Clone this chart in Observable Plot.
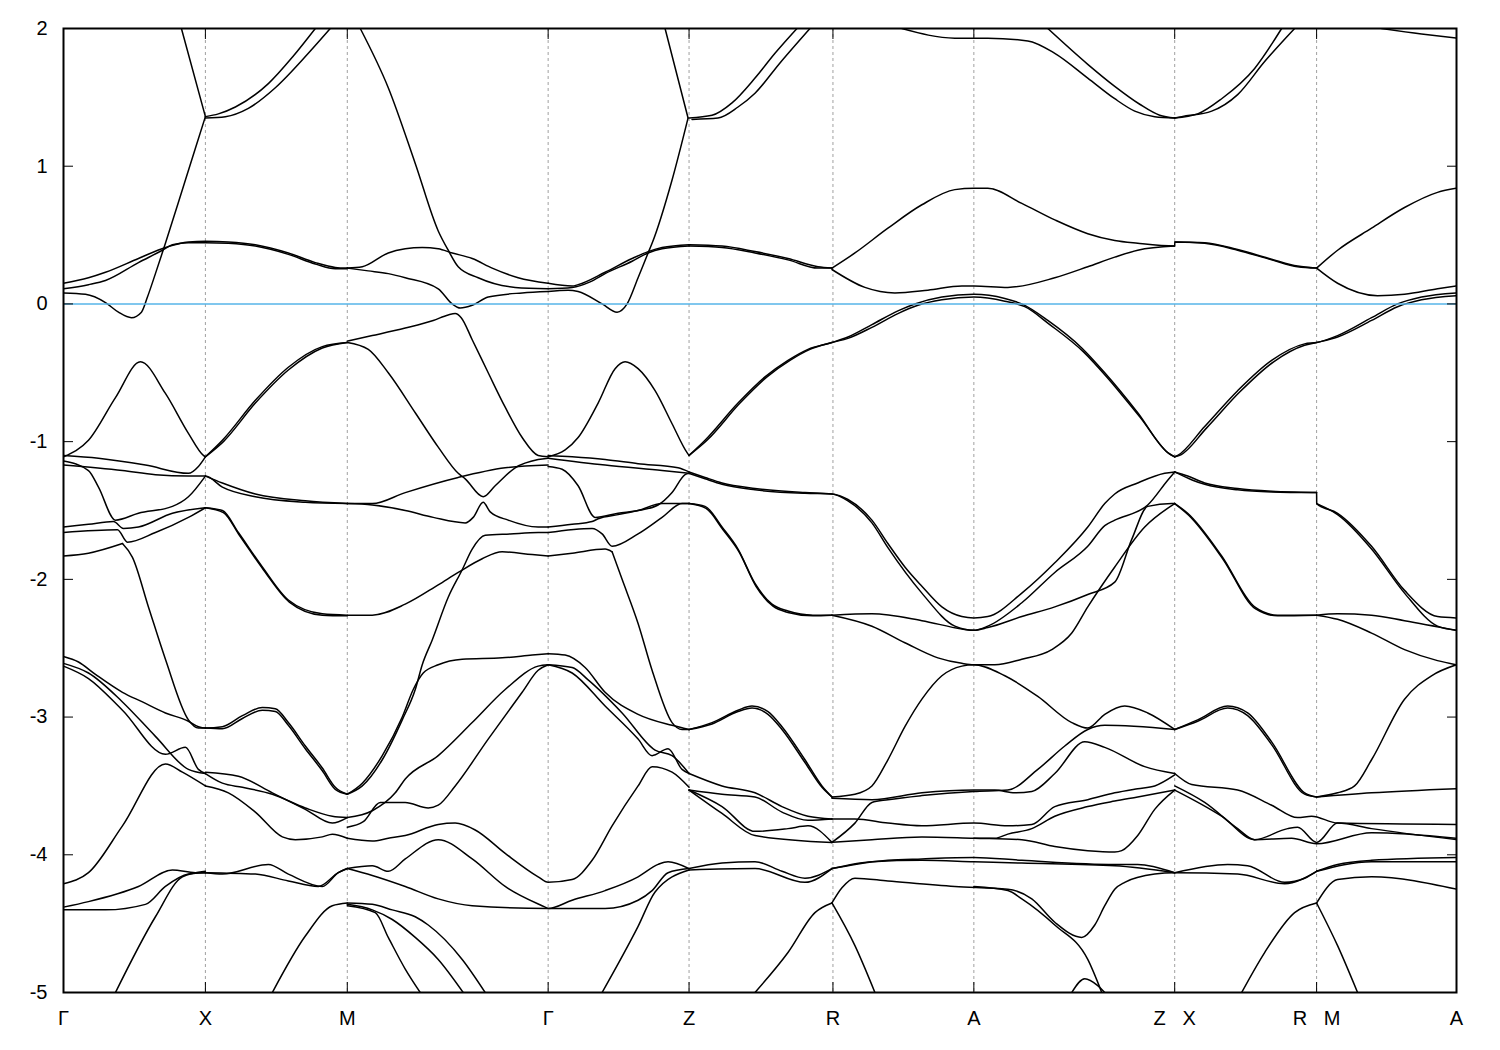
<!DOCTYPE html>
<html><head><meta charset="utf-8">
<script src="https://cdn.jsdelivr.net/npm/d3@7"></script>
<script src="https://cdn.jsdelivr.net/npm/@observablehq/plot@0.6"></script>
<style>body{margin:0;background:#fff;}</style>
</head><body><div id="chart"></div>
<script>
// High-symmetry path (k in path-length units) and labels
const kTicks = [0, 1.42, 2.84, 4.85, 6.26, 7.70, 9.11, 11.12, 12.54, 13.94];
const kLabels = ["Γ","X","M","Γ","Z","R","A","Z\u00a0\u00a0\u00a0X","R\u00a0\u00a0\u00a0M","A"];
const energyTicks = [-5,-4,-3,-2,-1,0,1,2];
const fermiLevel = 0;

// Band pieces: each is a list of [k, E(eV)]
const conductionBands = [
 [[1.18,2.0],[1.42,1.36]],
 [[1.42,1.36],[1.55,1.38],[1.72,1.43],[2.05,1.60],[2.30,1.80],[2.52,2.0]],
 [[1.42,1.35],[1.62,1.36],[1.85,1.42],[2.12,1.57],[2.45,1.82],[2.67,2.0]],
 [[0,0.08],[0.22,0.07],[0.42,0.01],[0.55,-0.06],[0.68,-0.10],[0.78,-0.06],[0.84,0.05],[0.92,0.22],[1.02,0.44],[1.22,0.90],[1.42,1.36]],
 [[0,0.15],[0.25,0.19],[0.42,0.23],[0.75,0.33],[1.02,0.41],[1.25,0.45],[1.42,0.455],[1.65,0.45],[1.92,0.43],[2.25,0.37],[2.52,0.30],[2.72,0.265],[2.84,0.26]],
 [[0,0.11],[0.25,0.14],[0.42,0.17],[0.75,0.30],[0.99,0.39],[1.09,0.43],[1.25,0.445],[1.42,0.445],[1.65,0.44],[1.92,0.42],[2.25,0.36],[2.52,0.29],[2.72,0.255],[2.84,0.255]],
 [[2.84,0.26],[2.99,0.27],[3.25,0.37],[3.42,0.40],[3.59,0.41],[3.75,0.40],[3.89,0.37],[4.09,0.33],[4.29,0.26],[4.55,0.19],[4.85,0.15]],
 [[2.84,0.26],[3.05,0.24],[3.25,0.22],[3.42,0.19],[3.75,0.11],[3.89,0.0],[3.97,-0.03],[4.09,-0.01],[4.25,0.05],[4.59,0.08],[4.85,0.09]],
 [[2.97,2.0],[3.25,1.57],[3.52,1.02],[3.75,0.53],[3.85,0.39],[3.95,0.27],[4.15,0.19],[4.52,0.12],[4.85,0.11]],
 [[4.85,0.15],[5.09,0.13],[5.15,0.14],[5.42,0.23],[5.69,0.33],[5.85,0.38],[5.99,0.41],[6.26,0.43]],
 [[4.85,0.11],[5.09,0.12],[5.27,0.16],[5.42,0.22],[5.69,0.31],[5.85,0.37],[5.99,0.40],[6.26,0.42]],
 [[4.85,0.09],[5.05,0.10],[5.15,0.09],[5.39,0.0],[5.54,-0.06],[5.64,0.0],[5.75,0.19],[5.85,0.37],[5.89,0.44],[6.09,0.90],[6.25,1.35]],
 [[6.02,2.0],[6.25,1.35]],
 [[6.26,1.35],[6.49,1.37],[6.69,1.46],[6.92,1.64],[7.12,1.82],[7.34,2.0]],
 [[6.29,1.34],[6.55,1.35],[6.75,1.43],[6.92,1.53],[7.17,1.75],[7.47,2.0]],
 [[6.26,0.42],[6.59,0.41],[6.92,0.37],[7.25,0.32],[7.55,0.26],[7.69,0.26]],
 [[6.26,0.43],[6.59,0.42],[6.92,0.38],[7.25,0.33],[7.55,0.27],[7.69,0.26]],
 [[7.69,0.26],[7.92,0.37],[8.25,0.55],[8.59,0.72],[8.92,0.83],[9.11,0.84],[9.25,0.84],[9.59,0.73],[9.92,0.61],[10.25,0.51],[10.52,0.46],[10.75,0.44],[11.12,0.42],[11.121,0.45],[11.42,0.44],[11.75,0.39],[12.09,0.32],[12.35,0.27],[12.54,0.26]],
 [[11.121,0.45],[11.42,0.445],[11.75,0.395],[12.09,0.325],[12.35,0.275],[12.54,0.26]],
 [[7.69,0.25],[8.02,0.12],[8.32,0.08],[8.65,0.10],[8.99,0.13],[9.11,0.13],[9.45,0.12],[9.92,0.19],[10.25,0.27],[10.52,0.34],[10.75,0.39],[11.12,0.42]],
 [[12.54,0.26],[12.75,0.39],[13.09,0.55],[13.42,0.70],[13.75,0.81],[13.94,0.84]],
 [[12.54,0.26],[12.75,0.15],[13.15,0.06],[13.42,0.07],[13.75,0.11],[13.94,0.13]],
 [[8.39,2.0],[8.92,1.93],[9.11,1.93],[9.25,1.93],[9.65,1.91],[9.92,1.82],[10.25,1.64],[10.52,1.49],[10.72,1.40],[10.92,1.36],[11.12,1.35]],
 [[9.85,2.0],[10.25,1.74],[10.52,1.58],[10.77,1.45],[10.97,1.37],[11.12,1.35]],
 [[11.12,1.35],[11.35,1.38],[11.59,1.49],[11.92,1.71],[12.19,2.0]],
 [[11.12,1.35],[11.19,1.36],[11.49,1.40],[11.75,1.52],[12.02,1.76],[12.32,2.0]],
 [[13.19,2.0],[13.59,1.96],[13.94,1.93]]
];

const valenceTop = [
 [[1.42,-1.11],[1.59,-0.99],[1.92,-0.70],[2.25,-0.46],[2.59,-0.31],[2.84,-0.28]],
 [[1.42,-1.11],[1.60,-1.00],[1.92,-0.72],[2.25,-0.48],[2.59,-0.32],[2.84,-0.28]],
 [[2.84,-0.27],[3.09,-0.23],[3.42,-0.175],[3.70,-0.12],[3.85,-0.08],[3.92,-0.07],[3.98,-0.10],[4.09,-0.26],[4.25,-0.50],[4.42,-0.75],[4.59,-0.97],[4.75,-1.10],[4.85,-1.11]],
 [[2.84,-0.28],[3.05,-0.33],[3.25,-0.50],[3.52,-0.79],[3.75,-1.04],[3.95,-1.23],[4.02,-1.27],[4.20,-1.40],[4.32,-1.32],[4.52,-1.19],[4.75,-1.13],[4.85,-1.12]],
 [[0,-1.11],[0.25,-0.99],[0.52,-0.68],[0.77,-0.42],[1.02,-0.65],[1.25,-0.94],[1.40,-1.10],[1.42,-1.11]],
 [[4.85,-1.11],[5.02,-1.06],[5.15,-0.97],[5.35,-0.72],[5.52,-0.47],[5.62,-0.42],[5.75,-0.47],[5.92,-0.63],[6.09,-0.87],[6.24,-1.08],[6.26,-1.10]],
 [[6.26,-1.10],[6.42,-0.99],[6.75,-0.72],[7.02,-0.53],[7.25,-0.41],[7.45,-0.33],[7.69,-0.28],[7.85,-0.24],[8.09,-0.15],[8.35,-0.05],[8.52,0.0],[8.79,0.05],[9.11,0.07],[9.42,0.04],[9.59,0.0],[9.85,-0.12],[10.19,-0.32],[10.42,-0.50],[10.75,-0.79],[11.05,-1.08],[11.12,-1.11]],
 [[6.26,-1.10],[6.44,-0.99],[6.77,-0.72],[7.04,-0.53],[7.27,-0.41],[7.47,-0.33],[7.69,-0.28],[7.85,-0.25],[8.09,-0.17],[8.35,-0.07],[8.55,-0.01],[8.79,0.03],[9.11,0.05],[9.42,0.02],[9.62,-0.02],[9.87,-0.15],[10.21,-0.35],[10.44,-0.53],[10.77,-0.82],[11.07,-1.09],[11.12,-1.11]],
 [[11.12,-1.11],[11.15,-1.10],[11.42,-0.89],[11.75,-0.63],[12.09,-0.41],[12.42,-0.29],[12.54,-0.28],[12.75,-0.23],[13.09,-0.10],[13.35,0.0],[13.59,0.05],[13.94,0.08]],
 [[11.12,-1.11],[11.17,-1.10],[11.44,-0.90],[11.77,-0.64],[12.11,-0.42],[12.42,-0.30],[12.54,-0.28],[12.75,-0.24],[13.09,-0.12],[13.35,-0.02],[13.59,0.03],[13.94,0.06]]
];

const valenceMid = [
 [[0,-1.10],[0.35,-1.12],[0.82,-1.17],[1.25,-1.23],[1.35,-1.18],[1.42,-1.11]],
 [[0,-1.17],[0.59,-1.21],[0.92,-1.24],[1.25,-1.25],[1.42,-1.25],[1.59,-1.33],[1.92,-1.40],[2.42,-1.44],[2.84,-1.45]],
 [[1.42,-1.25],[1.59,-1.30],[1.92,-1.38],[2.42,-1.43],[2.84,-1.45]],
 [[0,-1.14],[0.25,-1.21],[0.35,-1.33],[0.52,-1.57],[0.75,-1.52],[1.09,-1.47],[1.25,-1.40],[1.42,-1.25]],
 [[0,-1.62],[0.25,-1.60],[0.50,-1.58],[0.60,-1.63],[0.75,-1.62],[1.09,-1.52],[1.42,-1.48]],
 [[0,-1.66],[0.54,-1.64],[0.64,-1.73],[0.92,-1.66],[1.25,-1.55],[1.42,-1.48]],
 [[0,-1.83],[0.25,-1.81],[0.59,-1.74]],
 [[0.59,-1.74],[0.69,-1.84],[0.85,-2.20],[1.02,-2.58],[1.25,-3.02],[1.35,-3.08],[1.42,-3.08]],
 [[1.42,-1.48],[1.59,-1.50],[1.75,-1.66],[1.99,-1.91],[2.25,-2.15],[2.59,-2.25],[2.84,-2.26]],
 [[1.42,-1.48],[1.60,-1.515],[1.76,-1.68],[2.00,-1.93],[2.26,-2.165],[2.59,-2.26],[2.84,-2.265]],
 [[2.84,-1.45],[3.09,-1.45],[3.42,-1.37],[3.95,-1.26],[4.42,-1.19],[4.85,-1.17]],
 [[2.84,-1.45],[3.09,-1.46],[3.42,-1.50],[3.70,-1.55],[4.02,-1.59],[4.10,-1.55],[4.20,-1.44],[4.27,-1.51],[4.45,-1.57],[4.75,-1.62],[4.85,-1.62]],
 [[2.84,-2.26],[3.09,-2.26],[3.42,-2.18],[3.75,-2.04],[3.95,-1.95],[4.19,-1.85],[4.39,-1.80],[4.69,-1.82],[4.85,-1.83]],
 [[2.84,-3.56],[2.99,-3.50],[3.19,-3.31],[3.39,-3.02],[3.52,-2.80],[3.59,-2.62],[3.69,-2.44],[3.85,-2.13],[3.99,-1.93],[4.09,-1.78],[4.22,-1.68],[4.47,-1.67],[4.75,-1.66],[4.85,-1.66]],
 [[2.84,-3.56],[2.99,-3.48],[3.19,-3.28],[3.39,-3.00],[3.50,-2.80],[3.60,-2.68],[3.75,-2.62],[3.99,-2.58],[4.39,-2.57],[4.69,-2.55],[4.85,-2.54]],
 [[4.85,-1.10],[5.09,-1.11],[5.42,-1.13],[5.75,-1.16],[6.15,-1.19],[6.26,-1.22]],
 [[4.85,-1.12],[5.42,-1.17],[5.99,-1.21],[6.26,-1.23]],
 [[4.85,-1.18],[4.99,-1.20],[5.15,-1.32],[5.32,-1.55],[5.55,-1.52],[5.75,-1.50],[5.95,-1.46],[6.09,-1.37],[6.22,-1.24],[6.26,-1.23]],
 [[4.85,-1.62],[5.09,-1.60],[5.29,-1.58],[5.35,-1.56],[5.55,-1.53],[5.75,-1.50],[5.99,-1.45],[6.26,-1.45]],
 [[4.85,-1.66],[5.29,-1.63],[5.39,-1.67],[5.49,-1.76],[5.75,-1.67],[5.99,-1.55],[6.19,-1.45],[6.26,-1.45]],
 [[4.85,-1.83],[5.09,-1.81],[5.42,-1.78],[5.49,-1.80]],
 [[5.49,-1.80],[5.59,-2.0],[5.75,-2.32],[5.89,-2.66],[6.09,-3.04],[6.19,-3.09],[6.26,-3.09]],
 [[6.26,-1.22],[6.42,-1.26],[6.59,-1.30],[6.92,-1.34],[7.42,-1.37],[7.69,-1.38],[7.85,-1.42],[8.09,-1.57],[8.25,-1.74],[8.42,-1.91],[8.59,-2.05],[8.79,-2.20],[8.99,-2.27],[9.11,-2.28],[9.25,-2.27],[9.59,-2.10],[9.92,-1.88],[10.25,-1.62],[10.42,-1.45],[10.52,-1.38],[10.75,-1.30],[11.02,-1.23],[11.12,-1.22]],
 [[6.26,-1.23],[6.42,-1.27],[6.59,-1.31],[6.92,-1.35],[7.42,-1.375],[7.69,-1.38],[7.85,-1.43],[8.09,-1.59],[8.25,-1.77],[8.59,-2.10],[8.92,-2.34],[9.11,-2.37],[9.25,-2.34],[9.59,-2.17],[9.92,-1.95],[10.25,-1.76],[10.42,-1.61],[10.52,-1.57],[10.85,-1.46],[11.05,-1.28],[11.12,-1.22]],
 [[6.26,-1.45],[6.42,-1.47],[6.59,-1.62],[6.75,-1.78],[6.92,-2.03],[7.09,-2.18],[7.25,-2.23],[7.50,-2.26],[7.69,-2.26]],
 [[6.26,-1.45],[6.43,-1.485],[6.60,-1.64],[6.76,-1.80],[6.93,-2.05],[7.10,-2.195],[7.25,-2.24],[7.50,-2.265],[7.69,-2.26]],
 [[7.69,-2.26],[8.09,-2.25],[8.59,-2.30],[8.99,-2.36],[9.11,-2.37],[9.25,-2.35],[9.59,-2.27],[9.92,-2.20],[10.25,-2.11],[10.52,-2.02],[10.69,-1.71],[10.85,-1.47],[11.09,-1.45],[11.12,-1.45]],
 [[7.69,-2.26],[8.09,-2.34],[8.42,-2.46],[8.75,-2.57],[8.99,-2.61],[9.11,-2.62],[9.32,-2.62],[9.59,-2.58],[9.89,-2.51],[10.09,-2.39],[10.25,-2.20],[10.52,-1.91],[10.82,-1.62],[11.12,-1.45]],
 [[11.12,-1.22],[11.25,-1.25],[11.42,-1.30],[11.75,-1.34],[12.09,-1.36],[12.54,-1.37],[12.541,-1.45],[12.75,-1.52],[13.09,-1.76],[13.42,-2.08],[13.75,-2.27],[13.94,-2.28]],
 [[11.12,-1.22],[11.30,-1.28],[11.42,-1.31],[11.75,-1.35],[12.09,-1.365],[12.54,-1.37]],
 [[12.541,-1.45],[12.75,-1.53],[13.09,-1.78],[13.42,-2.10],[13.75,-2.34],[13.94,-2.37]],
 [[11.12,-1.45],[11.25,-1.52],[11.59,-1.83],[11.92,-2.20],[12.15,-2.26],[12.54,-2.26]],
 [[11.12,-1.45],[11.26,-1.535],[11.60,-1.85],[11.93,-2.215],[12.15,-2.265],[12.54,-2.26]],
 [[12.54,-2.26],[12.75,-2.25],[13.09,-2.26],[13.42,-2.30],[13.94,-2.37]],
 [[12.54,-2.26],[12.75,-2.29],[13.09,-2.39],[13.42,-2.51],[13.75,-2.59],[13.94,-2.62]]
];

const valenceLow = [
 [[0,-2.56],[0.15,-2.60],[0.32,-2.69],[0.59,-2.82],[0.79,-2.89],[1.02,-2.97],[1.25,-3.03],[1.35,-3.07],[1.42,-3.08],[1.59,-3.07],[1.79,-2.99],[1.99,-2.93],[2.12,-2.94],[2.25,-3.04],[2.42,-3.21],[2.59,-3.37],[2.72,-3.51],[2.84,-3.56]],
 [[1.42,-3.08],[1.59,-3.085],[1.79,-3.01],[1.99,-2.95],[2.12,-2.96],[2.25,-3.06],[2.42,-3.23],[2.59,-3.39],[2.72,-3.525],[2.84,-3.56]],
 [[0,-2.61],[0.25,-2.68],[0.59,-2.89],[0.92,-3.14],[1.25,-3.38],[1.42,-3.41]],
 [[0,-2.63],[0.25,-2.72],[0.59,-2.95],[1.02,-3.27],[1.22,-3.22],[1.35,-3.38],[1.42,-3.41]],
 [[0,-4.21],[0.25,-4.13],[0.59,-3.79],[1.02,-3.34],[1.19,-3.40],[1.42,-3.50]],
 [[0,-4.38],[0.25,-4.34],[0.75,-4.23],[1.09,-4.11],[1.32,-4.13],[1.42,-4.13]],
 [[0,-4.40],[0.42,-4.40],[0.82,-4.36],[1.02,-4.23],[1.25,-4.14],[1.42,-4.13]],
 [[0.52,-5.0],[0.92,-4.45],[1.19,-4.16],[1.42,-4.12]],
 [[1.42,-3.40],[1.75,-3.43],[2.09,-3.55],[2.42,-3.67],[2.69,-3.77],[2.84,-3.73]],
 [[1.42,-3.41],[1.59,-3.48],[1.79,-3.51],[2.09,-3.56],[2.42,-3.66],[2.69,-3.72],[2.84,-3.73]],
 [[1.42,-3.50],[1.65,-3.55],[1.92,-3.69],[2.19,-3.87],[2.32,-3.89],[2.59,-3.87],[2.69,-3.85],[2.84,-3.88]],
 [[1.42,-4.13],[1.59,-4.14],[2.05,-4.07],[2.25,-4.14],[2.59,-4.23],[2.75,-4.13],[2.84,-4.10]],
 [[1.42,-4.13],[1.92,-4.14],[2.25,-4.19],[2.55,-4.23],[2.75,-4.13],[2.84,-4.10]],
 [[2.09,-5.0],[2.42,-4.59],[2.69,-4.37],[2.84,-4.35]],
 [[2.84,-4.35],[3.09,-4.36],[3.29,-4.40],[3.52,-4.45],[3.65,-4.51],[3.99,-4.76],[4.22,-5.0]],
 [[2.84,-4.36],[3.09,-4.40],[3.29,-4.47],[3.52,-4.60],[3.75,-4.76],[4.0,-5.0]],
 [[2.84,-4.37],[3.12,-4.42],[3.25,-4.60],[3.42,-4.83],[3.57,-5.0]],
 [[2.84,-3.73],[3.09,-3.68],[3.32,-3.55],[3.42,-3.45],[3.75,-3.28],[4.09,-3.04],[4.42,-2.80],[4.75,-2.63],[4.85,-2.62]],
 [[2.84,-3.80],[3.0,-3.76],[3.17,-3.62],[3.32,-3.62],[3.42,-3.62],[3.65,-3.66],[3.75,-3.64],[3.92,-3.50],[4.25,-3.16],[4.59,-2.82],[4.75,-2.66],[4.85,-2.62]],
 [[2.84,-3.88],[3.09,-3.90],[3.25,-3.88],[3.42,-3.86],[3.75,-3.78],[3.92,-3.77],[4.12,-3.82],[4.42,-3.99],[4.75,-4.16],[4.85,-4.20],[5.09,-4.18],[5.29,-4.04],[5.49,-3.79],[5.75,-3.50],[5.89,-3.36],[6.09,-3.40],[6.26,-3.51]],
 [[2.84,-4.10],[3.09,-4.08],[3.25,-4.12],[3.42,-4.03],[3.75,-3.89],[4.09,-4.03],[4.42,-4.23],[4.82,-4.38],[4.85,-4.39],[5.09,-4.33],[5.42,-4.26],[5.75,-4.16],[5.95,-4.07],[6.05,-4.05],[6.26,-4.10]],
 [[2.84,-4.10],[3.09,-4.15],[3.42,-4.23],[3.75,-4.32],[4.09,-4.37],[4.85,-4.39],[5.42,-4.39],[5.75,-4.33],[5.89,-4.26],[6.05,-4.13],[6.26,-4.10]],
 [[4.85,-2.54],[5.02,-2.55],[5.22,-2.64],[5.42,-2.82],[5.75,-2.98],[6.09,-3.06],[6.26,-3.09]],
 [[4.85,-2.62],[5.09,-2.64],[5.25,-2.73],[5.59,-2.97],[5.92,-3.24],[6.09,-3.28],[6.26,-3.41]],
 [[4.85,-2.62],[5.09,-2.68],[5.42,-2.92],[5.75,-3.16],[5.89,-3.28],[6.05,-3.23],[6.19,-3.38],[6.26,-3.41]],
 [[5.39,-5.0],[5.75,-4.52],[5.92,-4.27],[6.26,-4.11]],
 [[6.26,-3.09],[6.49,-3.04],[6.75,-2.95],[6.89,-2.92],[7.05,-2.96],[7.19,-3.07],[7.42,-3.31],[7.59,-3.50],[7.69,-3.58]],
 [[6.26,-3.09],[6.49,-3.05],[6.75,-2.96],[6.89,-2.935],[7.05,-2.98],[7.19,-3.09],[7.42,-3.33],[7.59,-3.51],[7.69,-3.58]],
 [[6.26,-3.41],[6.59,-3.50],[6.92,-3.55],[7.19,-3.65],[7.45,-3.72],[7.69,-3.74]],
 [[6.26,-3.53],[6.59,-3.56],[6.92,-3.58],[7.19,-3.69],[7.45,-3.75],[7.69,-3.74]],
 [[6.26,-3.53],[6.59,-3.65],[6.92,-3.83],[7.25,-3.81],[7.45,-3.79],[7.69,-3.91]],
 [[6.26,-3.53],[6.59,-3.70],[6.92,-3.86],[7.69,-3.91]],
 [[6.26,-4.10],[6.59,-4.06],[6.92,-4.05],[7.19,-4.12],[7.42,-4.17],[7.69,-4.10]],
 [[6.26,-4.11],[6.92,-4.10],[7.42,-4.20],[7.69,-4.10]],
 [[6.92,-5.0],[7.25,-4.71],[7.52,-4.42],[7.69,-4.35]],
 [[7.69,-4.35],[7.92,-4.66],[8.12,-5.0]],
 [[7.69,-3.58],[7.92,-3.56],[8.09,-3.50],[8.25,-3.31],[8.42,-3.07],[8.59,-2.87],[8.79,-2.70],[8.99,-2.63],[9.11,-2.62],[9.42,-2.70],[9.75,-2.85],[10.09,-3.04],[10.25,-3.08],[10.42,-2.98],[10.62,-2.92],[10.85,-2.97],[11.12,-3.09]],
 [[7.69,-3.59],[8.09,-3.60],[8.59,-3.55],[9.11,-3.53],[9.32,-3.53],[9.52,-3.55],[9.69,-3.54],[9.92,-3.41],[10.22,-3.18],[10.42,-3.22],[10.82,-3.36],[11.12,-3.41]],
 [[7.69,-3.91],[7.92,-3.77],[8.09,-3.62],[8.25,-3.60],[8.59,-3.57],[9.11,-3.54],[9.45,-3.53],[9.75,-3.38],[10.02,-3.21],[10.25,-3.09],[10.42,-3.06],[11.12,-3.09]],
 [[7.69,-3.74],[7.92,-3.74],[8.25,-3.77],[8.59,-3.79],[9.11,-3.77],[9.45,-3.79],[9.69,-3.78],[9.92,-3.65],[10.25,-3.60],[10.52,-3.55],[10.75,-3.52],[10.92,-3.50],[11.12,-3.42]],
 [[7.69,-3.91],[8.09,-3.89],[8.59,-3.87],[9.11,-3.88],[9.59,-3.89],[9.92,-3.94],[10.25,-3.97],[10.52,-3.98],[10.59,-3.97],[10.75,-3.86],[10.92,-3.67],[11.12,-3.53]],
 [[9.11,-3.88],[9.32,-3.88],[9.45,-3.85],[9.69,-3.81],[9.92,-3.72],[10.25,-3.65],[10.52,-3.61],[10.75,-3.58],[11.12,-3.53]],
 [[7.69,-4.10],[7.92,-4.07],[8.25,-4.04],[8.59,-4.03],[9.11,-4.02],[9.59,-4.04],[10.52,-4.07],[10.75,-4.07],[11.12,-4.13]],
 [[7.69,-4.10],[8.09,-4.05],[8.59,-4.04],[9.11,-4.05],[9.59,-4.06],[10.52,-4.08],[11.12,-4.13]],
 [[7.69,-4.35],[7.79,-4.24],[7.92,-4.17],[8.25,-4.19],[8.92,-4.23],[9.45,-4.25],[9.69,-4.32],[9.92,-4.49],[10.19,-4.60],[10.32,-4.51],[10.42,-4.37],[10.52,-4.25],[10.62,-4.20],[10.92,-4.14],[11.12,-4.13],[11.75,-4.14],[12.22,-4.21],[12.54,-4.12]],
 [[9.11,-4.23],[9.45,-4.26],[9.59,-4.32],[9.92,-4.51],[10.25,-4.76],[10.39,-5.0]],
 [[10.09,-5.0],[10.22,-4.90],[10.35,-4.95],[10.42,-5.0]],
 [[11.12,-3.09],[11.35,-3.02],[11.65,-2.92],[11.85,-2.97],[12.09,-3.18],[12.42,-3.55],[12.54,-3.58]],
 [[11.12,-3.09],[11.35,-3.03],[11.65,-2.935],[11.85,-2.99],[12.09,-3.20],[12.42,-3.56],[12.54,-3.58]],
 [[12.54,-3.58],[12.75,-3.55],[12.92,-3.50],[13.09,-3.31],[13.42,-2.87],[13.69,-2.70],[13.94,-2.62]],
 [[12.54,-3.58],[13.09,-3.55],[13.94,-3.52]],
 [[11.12,-3.41],[11.29,-3.49],[11.75,-3.53],[12.09,-3.64],[12.35,-3.73],[12.49,-3.72],[12.75,-3.77],[13.94,-3.78]],
 [[11.12,-3.50],[11.42,-3.62],[11.75,-3.81],[11.92,-3.89],[12.25,-3.81],[12.35,-3.80],[12.54,-3.91],[12.75,-3.77],[13.09,-3.81],[13.94,-3.89]],
 [[11.12,-3.53],[11.59,-3.72],[11.92,-3.89],[12.29,-3.88],[12.54,-3.92],[13.09,-3.84],[13.94,-3.88]],
 [[11.12,-4.13],[11.65,-4.07],[11.85,-4.08],[12.22,-4.20],[12.42,-4.17],[12.54,-4.12]],
 [[12.54,-4.12],[12.75,-4.07],[13.09,-4.04],[13.94,-4.02]],
 [[12.54,-4.12],[13.09,-4.05],[13.94,-4.05]],
 [[12.54,-4.35],[12.75,-4.18],[13.09,-4.16],[13.94,-4.25]],
 [[11.79,-5.0],[12.02,-4.71],[12.32,-4.42],[12.54,-4.35]],
 [[12.54,-4.35],[12.75,-4.66],[12.95,-5.0]]
];

const allBands = [...conductionBands, ...valenceTop, ...valenceMid, ...valenceLow];
const rows = allBands.flatMap((curve, id) => curve.map(([k, E]) => ({id, k, E})));
const labelOf = new Map(kTicks.map((k, i) => [k, kLabels[i]]));

const chart = Plot.plot({
  width: 1500,
  height: 1050,
  marginLeft: 63,
  marginRight: 44,
  marginTop: 28,
  marginBottom: 58,
  x: {domain: [0, 13.94], label: null},
  y: {domain: [-5, 2], label: null},
  style: {fontFamily: "'Liberation Sans', Arial, sans-serif", fontSize: "20px", color: "#000", background: "#fff"},
  marks: [
    Plot.ruleX(kTicks.slice(1, -1), {stroke: "#a0a0a0", strokeDasharray: "3,3", strokeWidth: 1}),
    Plot.line(rows, {x: "k", y: "E", z: "id", stroke: "#000", strokeWidth: 1.5, curve: "monotone-x", clip: true}),
    Plot.ruleY([fermiLevel], {stroke: "#56b4e9", strokeWidth: 1.5}),
    Plot.frame({stroke: "#000", strokeWidth: 2}),
    Plot.axisY({anchor: "left", ticks: energyTicks, tickSize: -10, tickPadding: 26, tickFormat: d => String(d)}),
    Plot.axisY({anchor: "right", ticks: energyTicks, tickSize: -10, tickFormat: () => ""}),
    Plot.axisX({anchor: "bottom", ticks: kTicks, tickSize: -10, tickPadding: 28, tickFormat: d => labelOf.get(d)}),
    Plot.axisX({anchor: "top", ticks: kTicks, tickSize: -10, tickFormat: () => ""})
  ]
});
document.getElementById("chart").appendChild(chart);
</script>
</body></html>
